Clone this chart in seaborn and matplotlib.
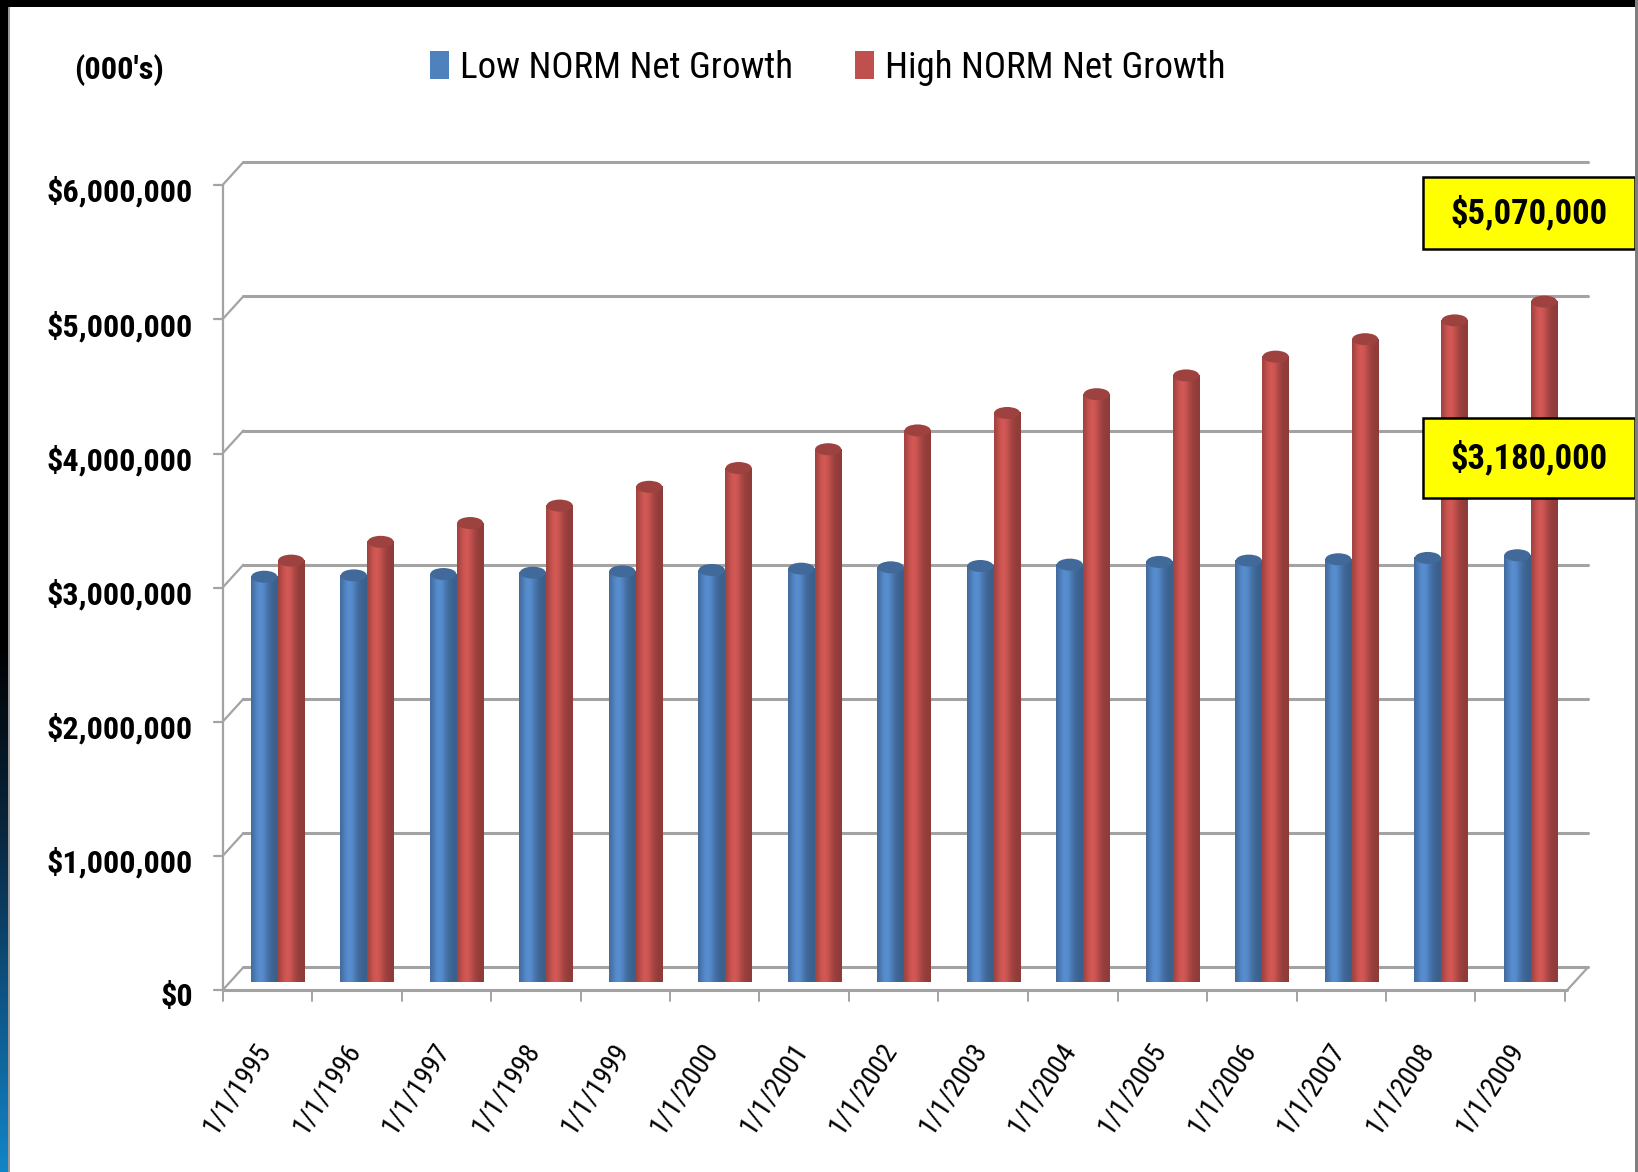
import numpy as np
import pandas as pd
import matplotlib
matplotlib.use("Agg")
import matplotlib.pyplot as plt
import matplotlib.font_manager as fm
import seaborn as sns
from matplotlib.patches import Rectangle, Ellipse, Patch
from matplotlib.transforms import ScaledTranslation

# ---------------- data ----------------
dates = ["1/1/1995", "1/1/1996", "1/1/1997", "1/1/1998", "1/1/1999",
         "1/1/2000", "1/1/2001", "1/1/2002", "1/1/2003", "1/1/2004",
         "1/1/2005", "1/1/2006", "1/1/2007", "1/1/2008", "1/1/2009"]
low_norm = [3020000, 3030000, 3040000, 3050000, 3060000, 3070000, 3080000,
            3090000, 3100000, 3110000, 3130000, 3140000, 3150000, 3160000, 3180000]
high_norm = [3140000, 3280000, 3420000, 3550000, 3690000, 3830000, 3970000,
             4110000, 4240000, 4380000, 4520000, 4660000, 4790000, 4930000, 5070000]
series_names = ["Low NORM Net Growth", "High NORM Net Growth"]
series_colors = ["#4F81BD", "#C0504D"]
y_ticks = [0, 1000000, 2000000, 3000000, 4000000, 5000000, 6000000]
y_tick_labels = ["$0", "$1,000,000", "$2,000,000", "$3,000,000",
                 "$4,000,000", "$5,000,000", "$6,000,000"]
unit_label = "(000's)"
callouts = ["$5,070,000", "$3,180,000"]

# ---------------- style ----------------
sns.set_theme(style="white")
available = {f.name for f in fm.fontManager.ttflist}
FONT = next((f for f in ["Liberation Sans Narrow", "DejaVu Sans Condensed",
                         "Roboto Condensed", "Open Sans Condensed", "Liberation Sans"]
             if f in available), "DejaVu Sans")
plt.rcParams["font.family"] = [FONT, "DejaVu Sans"]
plt.rcParams["text.color"] = "black"
plt.rcParams["xtick.labelcolor"] = "black"
plt.rcParams["ytick.labelcolor"] = "black"

W, H = 1638, 1172
DPI = 100
fig = plt.figure(figsize=(W / DPI, H / DPI), dpi=DPI)
fig.patch.set_facecolor("white")
renderer = fig.canvas.get_renderer()


def fit_size(text, target_px, weight="normal"):
    prop = fm.FontProperties(family=[FONT, "DejaVu Sans"], weight=weight, size=10)
    w, _, _ = renderer.get_text_width_height_descent(text, prop, ismath=False)
    return 10 * target_px / w


ytick_size = fit_size("$6,000,000", 145, "bold")
unit_size = fit_size(unit_label, 90, "bold")
legend_size = fit_size(series_names[0], 333)
callout_size = fit_size(callouts[0], 157, "bold")
xtick_size = fit_size(dates[0], 102)

PX_CAT = 89.5      # pixels per category
PX_M = 134.2       # pixels per 1,000,000
AX_LEFT = 233
AX_ZERO = 982
YMIN = -150000
YMAX = 6300000
n = len(dates)
ax_bottom_px = AX_ZERO - YMIN / 1e6 * PX_M
ax = fig.add_axes([AX_LEFT / W, (H - ax_bottom_px) / H, n * PX_CAT / W,
                   ((YMAX - YMIN) / 1e6 * PX_M) / H])
ax.set_facecolor("none")

df = pd.DataFrame({
    "Date": dates * 2,
    "Series": [series_names[0]] * n + [series_names[1]] * n,
    "Value": low_norm + high_norm,
})
sns.barplot(data=df, x="Date", y="Value", hue="Series", hue_order=series_names,
            palette=series_colors, width=0.6, saturation=1, ax=ax, legend=False,
            linewidth=0, edgecolor="none", errorbar=None)

# cylinder shading for each bar
t = np.linspace(0, 1, 64)
shade = 0.74 + 0.36 * np.exp(-((t - 0.35) / 0.3) ** 2)
cap_h = 12 / PX_M * 1e6
for p in list(ax.patches):
    w = p.get_width()
    h = p.get_height()
    if w <= 0 or h <= 0:
        continue
    x0 = p.get_x()
    base = np.array(p.get_facecolor()[:3])
    img = np.clip(base[None, None, :] * shade[None, :, None], 0, 1)
    ax.imshow(img, extent=[x0, x0 + w, 0, h], aspect="auto",
              interpolation="bilinear", zorder=1.5)
    cap = Ellipse((x0 + w / 2, h), w * 0.97, cap_h,
                  facecolor=np.clip(base * 0.82, 0, 1), edgecolor="none", zorder=1.6)
    ax.add_patch(cap)

# 3-D like frame: back wall gridlines, front axis, floor
dxb = 10.4 / PX_CAT
dyb = 14.7 / PX_M * 1e6
dxf = -10.5 / PX_CAT
dyf = -8.3 / PX_M * 1e6
x_back_right = (1588 - AX_LEFT) / PX_CAT - 0.5
x_front_right = (1567 - AX_LEFT) / PX_CAT - 0.5
gc = "#A3A3A3"
glw = 2.2
for v in y_ticks:
    yb = v + dyb
    yf = v + dyf
    ax.plot([-0.5 + dxb, x_back_right], [yb, yb], color=gc, lw=glw, zorder=0.5, clip_on=False)
    ax.plot([-0.5 + dxf, -0.5 + dxb], [yf, yb], color=gc, lw=1.6, zorder=0.5, clip_on=False)
    ax.plot([-0.5 + dxf - 9 / PX_CAT, -0.5 + dxf], [yf, yf], color=gc, lw=1.6, zorder=0.5, clip_on=False)
ax.plot([-0.5 + dxf] * 2, [dyf, y_ticks[-1] + dyf], color=gc, lw=1.6, zorder=0.5, clip_on=False)
ax.plot([-0.5 + dxf, x_front_right], [dyf, dyf], color=gc, lw=glw, zorder=0.5, clip_on=False)
ax.plot([x_front_right, x_back_right], [dyf, dyb], color=gc, lw=1.6, zorder=0.5, clip_on=False)
for k in range(n + 1):
    xk = k - 0.5 + dxf
    ax.plot([xk, xk], [dyf, dyf - 11 / PX_M * 1e6], color=gc, lw=1.4, zorder=0.5, clip_on=False)

for s in ax.spines.values():
    s.set_visible(False)
ax.set_xlabel("")
ax.set_ylabel("")
ax.grid(False)

# y tick labels on the front axis
ax.set_yticks([v + dyf for v in y_ticks], labels=y_tick_labels)
ax.tick_params(axis="y", length=0, pad=40 * 72 / DPI, labelsize=ytick_size)
yshift = ScaledTranslation(0, -4 / DPI, fig.dpi_scale_trans)
for lab in ax.get_yticklabels():
    lab.set_fontweight("bold")
    lab.set_transform(lab.get_transform() + yshift)

# x tick labels
ax.set_xticks(range(n), labels=dates)
ax.tick_params(axis="x", length=0, pad=(1045 - ax_bottom_px) * 72 / DPI, labelsize=xtick_size)
shift = ScaledTranslation(-12.5 / DPI, 0, fig.dpi_scale_trans)
for lab in ax.get_xticklabels():
    lab.set_rotation(57)
    lab.set_ha("right")
    lab.set_va("center")
    lab.set_rotation_mode("anchor")
    lab.set_transform(lab.get_transform() + shift)

ax.set_xlim(-0.5, n - 0.5)
ax.set_ylim(YMIN, YMAX)

# unit label
fig.text(74 / W, 1 - 70 / H, unit_label, fontsize=unit_size, fontweight="bold",
         ha="left", va="center")

# legend
em = legend_size * DPI / 72
handles = [Patch(facecolor=c, edgecolor="none", label=lbl)
           for c, lbl in zip(series_colors, series_names)]
fig.legend(handles=handles, loc="center left", bbox_to_anchor=(430 / W, 1 - 68 / H),
           ncol=2, frameon=False, fontsize=legend_size, borderpad=0, borderaxespad=0,
           handlelength=19 / em, handleheight=29 / em, handletextpad=11 / em,
           columnspacing=62 / em)

# callout boxes
for (label, top, bottom) in zip(callouts, [177, 418], [249, 498]):
    fig.patches.append(Rectangle((1423 / W, 1 - bottom / H), (1635 - 1423) / W,
                                 (bottom - top) / H, transform=fig.transFigure,
                                 facecolor="#FFFF00", edgecolor="black", lw=1.8,
                                 zorder=5))
    fig.text((1423 + 1635) / 2 / W, 1 - (top + bottom) / 2 / H, label,
             fontsize=callout_size, fontweight="bold", ha="center", va="center", zorder=6)

# outer frame
fig.patches.append(Rectangle((0, 1 - 7 / H), 1, 7 / H, transform=fig.transFigure,
                             facecolor="black", edgecolor="none", zorder=7))
fig.patches.append(Rectangle((1 - 3 / W, 0), 3 / W, 1, transform=fig.transFigure,
                             facecolor="#7F7F7F", edgecolor="none", zorder=7))
side = fig.add_axes([0, 0, 8 / W, 1])
side.axis("off")
yy = np.linspace(0, 1, 300)  # 0 = top
stops = np.array([0.0, 0.55, 0.72, 0.85, 1.0])
cols = np.array([[0, 0, 0], [0, 0, 0], [0.04, 0.16, 0.26], [0.05, 0.33, 0.52], [0.07, 0.52, 0.78]])
grad = np.stack([np.interp(yy, stops, cols[:, i]) for i in range(3)], axis=-1)
side.imshow(grad[:, None, :], aspect="auto", extent=[0, 1, 0, 1], interpolation="bilinear")
side.set_xlim(0, 1)
side.set_ylim(0, 1)
fig.patches.append(Rectangle((8 / W, 0), 1.5 / W, 1 - 7 / H, transform=fig.transFigure,
                             facecolor="#9A9A9A", edgecolor="none", zorder=7))

fig.savefig("out.png", dpi=DPI)
